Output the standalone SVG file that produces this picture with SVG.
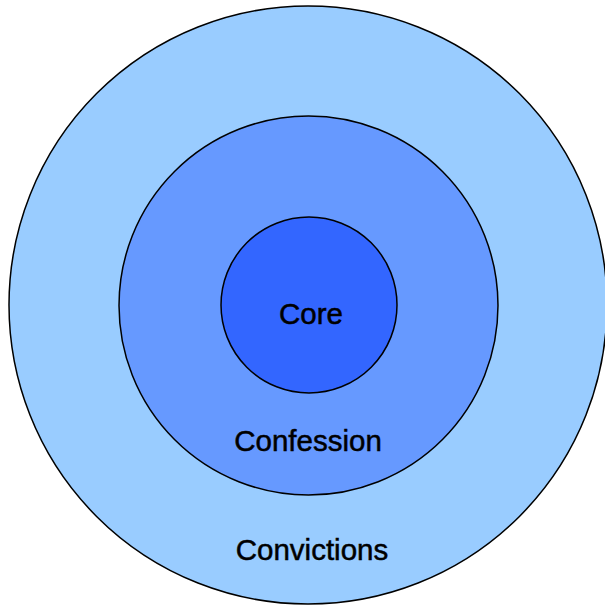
<svg xmlns="http://www.w3.org/2000/svg" width="605" height="606" viewBox="0 0 605 606">
<style>
.ring{stroke:#000;stroke-width:1.5}
.lbl{font-family:"Liberation Sans",Arial,sans-serif;font-size:29.5px;fill:#000;stroke:#000;stroke-width:0.5;text-anchor:middle}
</style>
<rect width="605" height="606" fill="#fff"/>
<g id="convictions">
<circle class="ring" cx="308" cy="305" r="299" fill="#99CCFF"/>
<text class="lbl" x="312" y="560">Convictions</text>
</g>
<g id="confession">
<circle class="ring" cx="308.5" cy="305.5" r="189.5" fill="#6699FF"/>
<text class="lbl" x="308" y="451">Confession</text>
</g>
<g id="core">
<circle class="ring" cx="309" cy="305" r="88" fill="#3366FF"/>
<text class="lbl" x="311" y="324">Core</text>
</g>
<g id="connectors"/>
</svg>
